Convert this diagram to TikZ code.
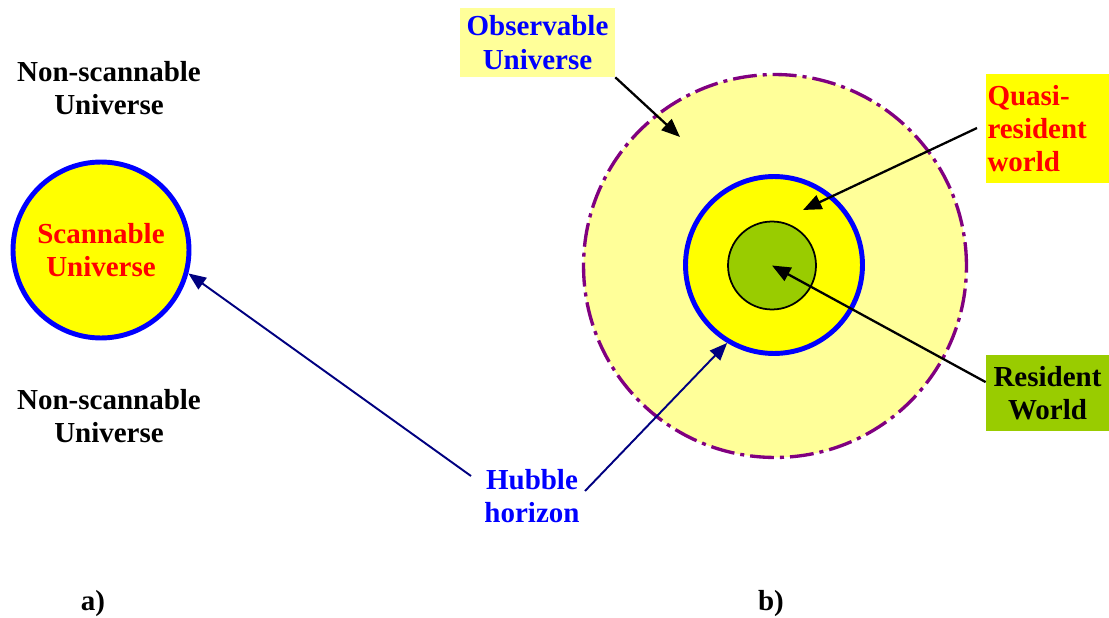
\documentclass[tikz,border=0pt]{standalone}
\usepackage{fontspec}
\setmainfont{Liberation Serif}
\usetikzlibrary{arrows.meta}
\definecolor{paleyellow}{HTML}{FFFF99}
\definecolor{brightyellow}{HTML}{FFFF00}
\definecolor{leafgreen}{HTML}{99CC00}
\definecolor{hubblenavy}{HTML}{000080}
\definecolor{edgepurple}{HTML}{800080}
\begin{document}
\begin{tikzpicture}[
        x=0.02cm, y=-0.02cm,
        lbl/.style={font=\fontsize{16.5}{19}\selectfont\bfseries, align=center},
        sphere/.style={circle, inner sep=0pt},
        tag/.style={lbl, inner sep=1pt},
        ptr/.style={-{Triangle[length=10.5pt, width=8.5pt]}, line width=1.3pt},
        hubptr/.style={-{Triangle[length=10pt, width=8pt]}, line width=1.1pt, hubblenavy}
    ]
        \useasboundingbox (0,0) rectangle (1109,618);

        % a) scannable universe
        \node[sphere, fill=brightyellow, draw=blue, line width=2.8pt,
              minimum size=3.52cm, lbl, text=red] (scan) at (101,250) {Scannable\\Universe};
        \node[lbl] (nsTop) at (109,88) {Non-scannable\\Universe};
        \node[lbl] (nsBot) at (109,416) {Non-scannable\\Universe};
        \node[lbl] (capA) at (93,604) {a)};

        % b) observable universe
        \node[sphere, fill=paleyellow, draw=edgepurple, line width=1.9pt,
              dash pattern=on 13.6pt off 3.4pt on 2.3pt off 3.4pt,
              minimum size=7.66cm] (obsU) at (775,266) {};
        \node[sphere, fill=brightyellow, draw=blue, line width=2.8pt,
              minimum size=3.54cm] (hor) at (774,265) {};
        \node[sphere, fill=leafgreen, draw=black, line width=1pt,
              minimum size=1.76cm] (res) at (772,265.5) {};
        \node[lbl] (capB) at (771,604) {b)};

        % labels
        \node[tag, fill=paleyellow, text=blue, minimum width=3.1cm,
              minimum height=1.38cm] (obsTag) at (537.5,42.5) {Observable\\Universe};
        \node[tag, fill=brightyellow, text=red, align=left, text width=2.4cm,
              minimum height=2.18cm] (quasiTag) at (1047.5,128.5) {Quasi-\\resident\\world};
        \node[tag, fill=leafgreen, minimum width=2.46cm,
              minimum height=1.52cm] (resTag) at (1047.5,393) {Resident\\World};
        \node[lbl, text=blue] (hub) at (532,496) {Hubble\\horizon};

        % pointers
        \coordinate (obsTip) at (680,137);
        \coordinate (quasiFoot) at (977,128);
        \coordinate (quasiTip) at (803,210);
        \coordinate (hubL) at (471,476);
        \coordinate (hubR) at (585,491);
        \draw[ptr] (obsTag.south east) -- (obsTip);
        \draw[ptr] (quasiFoot) -- (quasiTip);
        \draw[ptr] (resTag.170) -- (res.center);
        \draw[hubptr] (hubL) -- (scan.-15);
        \draw[hubptr] (hubR) -- (hor.239);
    \end{tikzpicture}
\end{document}
